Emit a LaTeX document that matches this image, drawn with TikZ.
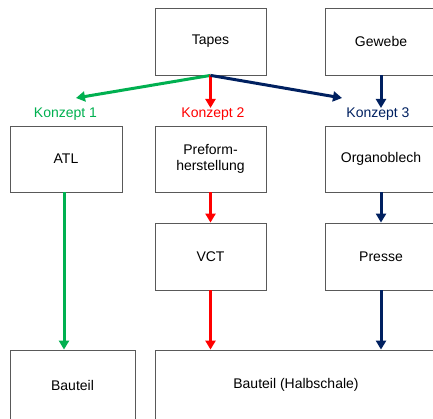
\documentclass[tikz,border=0pt]{standalone}
\usepackage{fontspec}
\setmainfont{Liberation Sans}
\usetikzlibrary{arrows.meta}
\definecolor{kgreen}{RGB}{0,176,80}
\definecolor{kred}{RGB}{255,0,0}
\definecolor{knavy}{RGB}{0,32,96}
\tikzstyle{box} = [draw=black!65, line width=0.8pt, minimum width=111pt, minimum height=67pt, align=center, font=\fontsize{14}{16}\selectfont]
\tikzstyle{line} = [draw, line width=3pt, -{Triangle[length=9pt,width=10pt]}]

\begin{document}
\begin{tikzpicture}[x=1pt,y=-1pt]
\tikzstyle{ann} = [draw=none,fill=none,font=\fontsize{14}{16}\selectfont]
\useasboundingbox (0,0) rectangle (433,419);
% top row
\node[box] (tapes) at (210.5,41.5) {Tapes};
\node[box] (gewebe) at (381,41.5) {Gewebe};
% concept labels
\node[ann,text=kgreen] (k1) at (65.5,114) {Konzept 1};
\node[ann,text=kred] (k2) at (213,114) {Konzept 2};
\node[ann,text=knavy] (k3) at (378,114) {Konzept 3};
\coordinate (k1end) at (76,98);
\coordinate (k2end) at (210.5,108);
\coordinate (k3end) at (342,98);
\coordinate (gwend) at (381,108);
% process steps
\node[box,minimum width=112pt,minimum height=66pt] (atl) at (66,159) {ATL};
\node[box,minimum height=66pt] (preform) at (210.5,159) {Preform-\\herstellung};
\node[box,minimum height=66pt] (organo) at (381,159) {Organoblech};
\node[box] (vct) at (210.5,256.5) {VCT};
\node[box] (presse) at (381,256.5) {Presse};
% parts
\node[box,minimum width=125pt,minimum height=70pt] (bauteil) at (72.5,385) {Bauteil};
\node[box,minimum width=282pt,minimum height=70pt] (halb) at (296,385) {Bauteil (Halbschale)};
% arrows
\path [line,kgreen] (tapes.south) -- (k1end);
\path [line,kred] (tapes.south) -- (k2end);
\path [line,knavy] (tapes.south) -- (k3end);
\path [line,knavy] (gewebe.south) -- (gwend);
\path [line,kgreen] ([xshift=-2pt]atl.south) -- ([xshift=-2pt]atl.south |- bauteil.north);
\path [line,kred] (preform.south) -- (vct.north);
\path [line,kred] (vct.south) -- (vct.south |- halb.north);
\path [line,knavy] (organo.south) -- (presse.north);
\path [line,knavy] (presse.south) -- (presse.south |- halb.north);
\end{tikzpicture}
\end{document}
